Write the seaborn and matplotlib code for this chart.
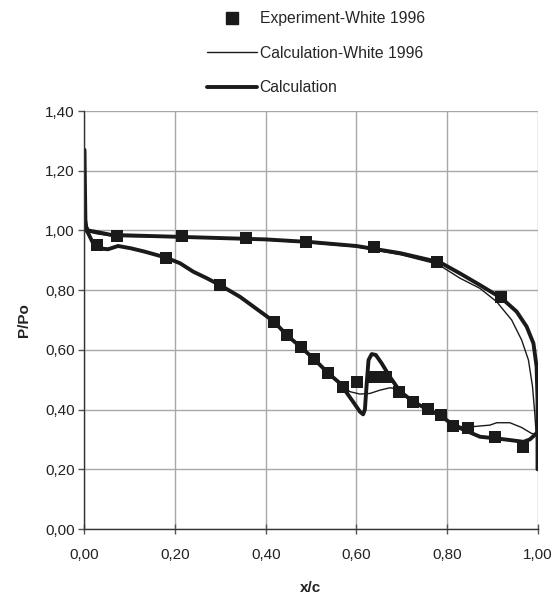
import matplotlib
matplotlib.use("Agg")
import matplotlib.pyplot as plt
from matplotlib.lines import Line2D
from matplotlib.ticker import FuncFormatter
import seaborn as sns

# ---- Experimental data (White 1996) ----
exp_x = [0.027, 0.072, 0.215, 0.357, 0.490, 0.639, 0.779, 0.919,
         0.180, 0.299, 0.419, 0.446, 0.477, 0.507, 0.538, 0.571, 0.601,
         0.638, 0.666, 0.694, 0.726, 0.758, 0.787, 0.814, 0.847, 0.906, 0.969]
exp_y = [0.951, 0.981, 0.981, 0.975, 0.962, 0.944, 0.895, 0.776,
         0.909, 0.817, 0.694, 0.650, 0.610, 0.569, 0.521, 0.474, 0.491,
         0.510, 0.508, 0.458, 0.426, 0.401, 0.382, 0.346, 0.337, 0.307, 0.276]

# ---- Calculation (White 1996), thin line ----
white_up_x = [0.0, 0.01, 0.03, 0.07, 0.20, 0.40, 0.50, 0.60, 0.70, 0.78, 0.829,
              0.873, 0.910, 0.943, 0.965, 0.980, 0.989, 0.994, 0.997]
white_up_y = [1.000, 0.995, 0.988, 0.980, 0.978, 0.968, 0.958, 0.945, 0.918, 0.887, 0.840,
              0.806, 0.761, 0.700, 0.633, 0.566, 0.477, 0.387, 0.320]
white_lo_x = [0.0, 0.010, 0.020, 0.035, 0.055, 0.075, 0.105, 0.135, 0.180, 0.211, 0.240,
              0.270, 0.299, 0.343, 0.419, 0.446, 0.477, 0.507, 0.538, 0.565, 0.586, 0.608,
              0.630, 0.652, 0.674, 0.688, 0.700, 0.726, 0.757, 0.786, 0.814, 0.840,
              0.858, 0.895, 0.910, 0.939, 0.965, 0.987, 0.997]
white_lo_y = [1.000, 0.983, 0.962, 0.945, 0.938, 0.947, 0.940, 0.929, 0.908, 0.890, 0.862,
              0.840, 0.817, 0.778, 0.692, 0.650, 0.608, 0.567, 0.522, 0.485, 0.460, 0.452,
              0.454, 0.465, 0.473, 0.470, 0.452, 0.426, 0.401, 0.382, 0.350, 0.340,
              0.343, 0.348, 0.356, 0.356, 0.340, 0.320, 0.318]

# ---- Calculation (present), thick line ----
calc_up_x = [0.0, 0.001, 0.002, 0.004, 0.008, 0.015, 0.030, 0.059, 0.20, 0.40, 0.50, 0.60,
             0.697, 0.785, 0.829, 0.873, 0.921, 0.954, 0.976, 0.991, 0.998, 1.0, 1.0]
calc_up_y = [1.270, 1.150, 1.035, 1.010, 1.000, 0.998, 0.994, 0.985, 0.979, 0.970, 0.961, 0.948,
             0.924, 0.893, 0.856, 0.817, 0.773, 0.728, 0.678, 0.622, 0.544, 0.432, 0.200]
calc_lo_x = [0.004, 0.008, 0.019, 0.030, 0.052, 0.074, 0.103, 0.133, 0.180, 0.211, 0.240,
             0.270, 0.299, 0.343, 0.419, 0.446, 0.477, 0.507, 0.538, 0.564, 0.593, 0.608,
             0.615, 0.619, 0.623, 0.627, 0.634, 0.643, 0.656, 0.674, 0.696, 0.726, 0.757,
             0.786, 0.814, 0.844, 0.873, 0.906, 0.939, 0.969, 0.983, 0.994, 1.0]
calc_lo_y = [1.010, 0.991, 0.957, 0.940, 0.937, 0.948, 0.940, 0.929, 0.909, 0.890, 0.862,
             0.840, 0.817, 0.778, 0.694, 0.650, 0.610, 0.569, 0.522, 0.488, 0.426, 0.393,
             0.384, 0.400, 0.488, 0.566, 0.586, 0.583, 0.555, 0.510, 0.462, 0.426, 0.401,
             0.380, 0.348, 0.328, 0.309, 0.304, 0.298, 0.292, 0.300, 0.315, 0.325]

x_ticks = [0.0, 0.2, 0.4, 0.6, 0.8, 1.0]
y_ticks = [0.0, 0.2, 0.4, 0.6, 0.8, 1.0, 1.2, 1.4]

sns.set_theme(style="white")
plt.rcParams["font.family"] = ["Liberation Sans", "DejaVu Sans"]

fig = plt.figure(figsize=(5.57, 5.94), dpi=100)
ax = fig.add_axes([0.1517, 0.1094, 0.8133, 0.7037])

thin_lw, thick_lw = 1.0, 2.8
for xs, ys in [(white_up_x, white_up_y), (white_lo_x, white_lo_y)]:
    sns.lineplot(x=xs, y=ys, sort=False, estimator=None, color="#1a1a1a",
                 linewidth=thin_lw, ax=ax)
for xs, ys in [(calc_up_x, calc_up_y), (calc_lo_x, calc_lo_y)]:
    l = sns.lineplot(x=xs, y=ys, sort=False, estimator=None, color="#1a1a1a",
                     linewidth=thick_lw, ax=ax)
for ln in ax.get_lines():
    ln.set_solid_joinstyle("round")
    ln.set_solid_capstyle("round")
sns.scatterplot(x=exp_x, y=exp_y, marker="s", s=70, color="#1a1a1a",
                edgecolor="#1a1a1a", linewidth=0, ax=ax, zorder=5)

ax.set_xlim(0, 1.0)
ax.set_ylim(0, 1.4)
ax.set_xticks(x_ticks)
ax.set_yticks(y_ticks)
fmt = FuncFormatter(lambda v, p: f"{v:.2f}".replace(".", ","))
ax.xaxis.set_major_formatter(fmt)
ax.yaxis.set_major_formatter(fmt)
ax.grid(True, color="#a8a8a8", linewidth=1.0)
ax.set_axisbelow(True)
for s in ["top", "right"]:
    ax.spines[s].set_visible(False)
for s in ["left", "bottom"]:
    ax.spines[s].set_color("#333333")
    ax.spines[s].set_linewidth(1.0)
ax.tick_params(axis="y", direction="out", length=4, width=1, color="#555555",
               labelsize=11, labelcolor="#222222", left=True, pad=3)
ax.tick_params(axis="x", direction="inout", length=7, width=1, color="#555555",
               labelsize=11, labelcolor="#222222", bottom=True, pad=10)
ax.set_xlabel("x/c", fontsize=11, fontweight="bold", labelpad=14, color="#222222")
ax.set_ylabel("P/Po", fontsize=11, fontweight="bold", labelpad=10, color="#222222")

handles = [
    Line2D([], [], marker="s", linestyle="none", color="#1a1a1a", markersize=8),
    Line2D([], [], color="#1a1a1a", linewidth=thin_lw),
    Line2D([], [], color="#1a1a1a", linewidth=thick_lw),
]
labels = ["Experiment-White 1996", "Calculation-White 1996", "Calculation"]
fig.legend(handles, labels, loc="upper left", bbox_to_anchor=(0.355, 0.997),
           frameon=False, fontsize=11.3, handlelength=3.2, handletextpad=0.15,
           labelspacing=1.25, borderaxespad=0.2)

fig.savefig("out.png", dpi=100)
